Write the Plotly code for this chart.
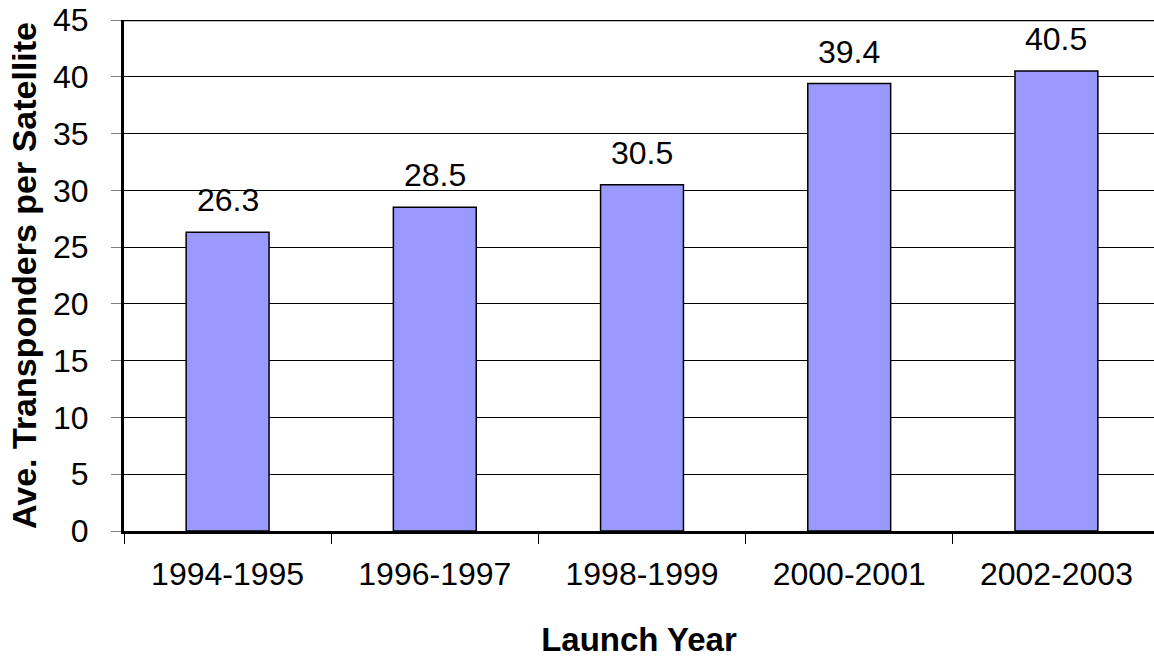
import plotly.graph_objects as go

launch_years = ["1994-1995", "1996-1997", "1998-1999", "2000-2001", "2002-2003"]
avg_transponders = [26.3, 28.5, 30.5, 39.4, 40.5]
y_ticks = [0, 5, 10, 15, 20, 25, 30, 35, 40, 45]

FONT = "Liberation Sans, Arial, sans-serif"

fig = go.Figure()
fig.add_trace(go.Bar(
    x=launch_years,
    y=avg_transponders,
    width=0.4,
    marker=dict(color="#9999FF", line=dict(color="#000000", width=1.5)),
    hoverinfo="x+y",
))

# value labels above each bar
for cat, val in zip(launch_years, avg_transponders):
    fig.add_annotation(
        x=cat, y=val, text=f"{val:.1f}", showarrow=False,
        yanchor="bottom", yshift=12,
        font=dict(family=FONT, size=32, color="#000000"),
    )

fig.update_layout(
    width=1154, height=658,
    margin=dict(l=124, r=0, t=20, b=127),
    paper_bgcolor="#FFFFFF", plot_bgcolor="#FFFFFF",
    showlegend=False,
    font=dict(family=FONT, size=32, color="#000000"),
    xaxis=dict(
        type="category",
        range=[-0.5, 4.471],
        tickson="boundaries",
        ticks="outside", ticklen=10, tickwidth=1, tickcolor="#000000",
        ticklabelstandoff=13,
        showline=True, linecolor="#000000", linewidth=3,
        showgrid=False,
        tickfont=dict(family=FONT, size=32),
        title=dict(text="<b>Launch Year</b>", standoff=38,
                   font=dict(family=FONT, size=33)),
        automargin=False,
    ),
    yaxis=dict(
        range=[0, 45],
        tickvals=y_ticks,
        ticks="outside", ticklen=10, tickwidth=1, tickcolor="#808080",
        ticklabelstandoff=16,
        showline=True, linecolor="#000000", linewidth=3,
        showgrid=True, gridcolor="#000000", gridwidth=1,
        zeroline=False,
        tickfont=dict(family=FONT, size=32),
        title=dict(text="<b>Ave. Transponders per Satellite</b>", standoff=7,
                   font=dict(family=FONT, size=34)),
        automargin=False,
        mirror=False,
    ),
    shapes=[dict(type="line", xref="paper", yref="y", x0=0, x1=1, y0=45, y1=45,
                 line=dict(color="#000000", width=2.5))],
)

fig.write_html("out.html")
